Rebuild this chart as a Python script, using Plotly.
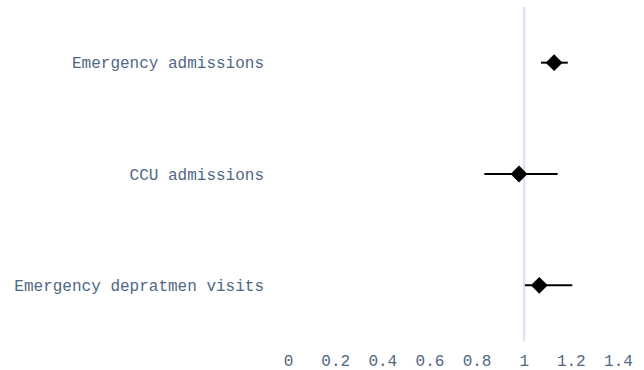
import plotly.graph_objects as go

categories = ["Emergency admissions", "CCU admissions", "Emergency depratmen visits"]
estimate = [1.127, 0.978, 1.064]
ci_low = [1.071, 0.831, 1.003]
ci_high = [1.185, 1.142, 1.204]
x_ticks = [0, 0.2, 0.4, 0.6, 0.8, 1, 1.2, 1.4]
reference_value = 1

err_plus = [h - e for h, e in zip(ci_high, estimate)]
err_minus = [e - l for e, l in zip(estimate, ci_low)]

fig = go.Figure()
fig.add_trace(go.Scatter(
    x=estimate,
    y=categories,
    mode="markers",
    marker=dict(symbol="diamond", size=13, color="black"),
    error_x=dict(type="data", symmetric=False, array=err_plus, arrayminus=err_minus,
                 color="black", thickness=2, width=0),
    showlegend=False,
))

fig.add_shape(type="line", xref="x", yref="paper", x0=reference_value, x1=reference_value,
              y0=0, y1=1, line=dict(color="#d3e1f2", width=2), layer="below")

fig.update_layout(
    width=644, height=370,
    margin=dict(l=265, r=2, t=7, b=29, pad=0),
    paper_bgcolor="white", plot_bgcolor="white",
    font=dict(family="Courier New, Courier, Nimbus Mono PS, Nimbus Mono L, FreeMono, Liberation Mono, monospace",
              size=16, color="#506784"),
    xaxis=dict(range=[-0.1, 1.5], tickvals=x_ticks, ticktext=[f"{v:g}" for v in x_ticks],
               showgrid=False, zeroline=False, showline=False, ticks="outside",
               ticklen=5, tickcolor="rgba(0,0,0,0)", automargin=False),
    yaxis=dict(range=[2.5, -0.5], showgrid=False, zeroline=False, showline=False, ticks="",
               automargin=False),
)

fig.write_html("out.html")
